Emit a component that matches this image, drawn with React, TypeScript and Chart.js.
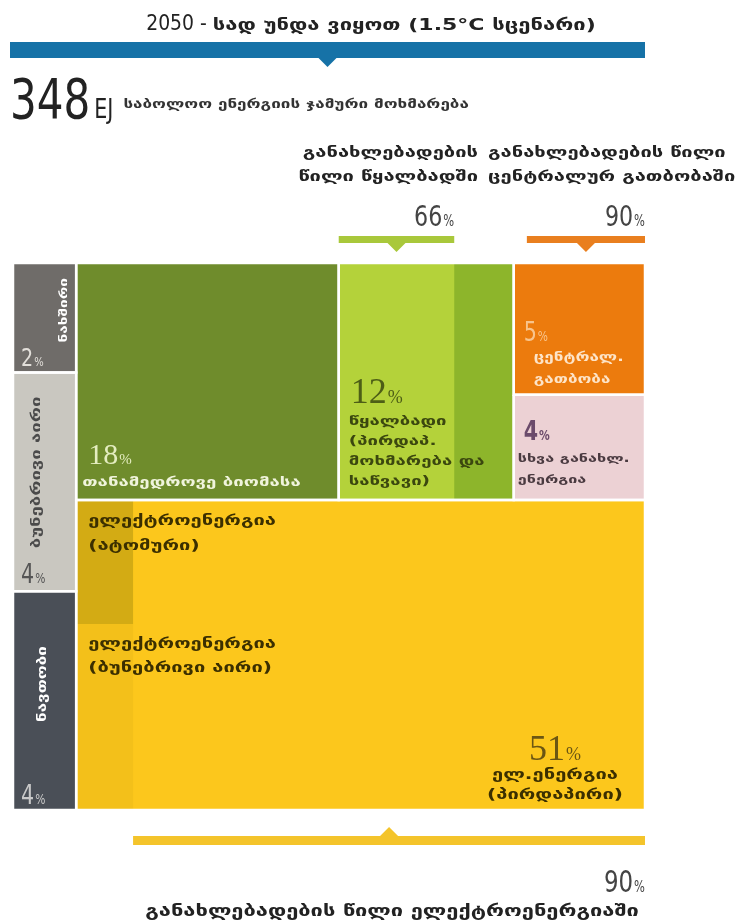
import { useEffect, useRef } from 'react';
import { Chart, registerables } from 'chart.js';
Chart.register(...registerables);

// ---------- DATA ----------
const totalEnergyEJ = 348;
const fossilNames = ['ნახშირი', 'ბუნებრივი აირი', 'ნავთობი'];
const fossilShares = [2, 4, 4];
const renewNames = ['თანამედროვე ბიომასა', 'წყალბადი', 'ცენტრალ. გათბობა', 'სხვა განახლ. ენერგია', 'ელ.ენერგია'];
const renewShares = [18, 12, 5, 4, 51];
const renewableShareNames = ['წყალბადში', 'ცენტრალურ გათბობაში', 'ელექტროენერგიაში'];
const renewableShareValues = [66, 90, 90];
const nonRenewElecNames = ['ატომური', 'ბუნებრივი აირი'];
const nonRenewElecSplit = [40, 60];

// ---------- STYLE ----------
const GEO = '"DejaVu Sans", "Noto Sans", sans-serif';
const NARROW = '"DejaVu Sans Condensed", "DejaVu Sans", sans-serif';
const SERIF = '"Liberation Serif", "DejaVu Serif", serif';
const GS = 1.42; // horizontal stretch for Georgian labels
const NS = 0.85; // horizontal squeeze for condensed numbers

type Cell = { x0: number; x1: number; y0: number; y1: number };
const sum = (a: number[]) => a.reduce((s, v) => s + v, 0);

function computeLayout() {
  const fossilTotal = sum(fossilShares);
  const renewTotal = sum(renewShares);
  const grand = fossilTotal + renewTotal;
  const fossilW = (fossilTotal / grand) * 100;
  let acc = 0;
  const fossil: Cell[] = fossilShares.map((v) => {
    const h = (v / fossilTotal) * 100;
    const c = { x0: 0, x1: fossilW, y0: acc, y1: acc + h };
    acc += h;
    return c;
  });
  const [bio, h2, dh, oth] = renewShares;
  const top = bio + h2 + dh + oth;
  const topH = (top / renewTotal) * 100;
  const mainW = 100 - fossilW;
  const bx1 = fossilW + (bio / top) * mainW;
  const hx1 = bx1 + (h2 / top) * mainW;
  const dhY = (dh / (dh + oth)) * topH;
  const biomass = { x0: fossilW, x1: bx1, y0: 0, y1: topH };
  const hydrogen = { x0: bx1, x1: hx1, y0: 0, y1: topH };
  const h2Renew = { x0: bx1, x1: bx1 + (renewableShareValues[0] / 100) * (hx1 - bx1), y0: 0, y1: topH };
  const heat = { x0: hx1, x1: 100, y0: 0, y1: dhY };
  const other = { x0: hx1, x1: 100, y0: dhY, y1: topH };
  const elec = { x0: fossilW, x1: 100, y0: topH, y1: 100 };
  const nonRenW = ((100 - renewableShareValues[2]) / 100) * mainW;
  const nucH = (nonRenewElecSplit[0] / sum(nonRenewElecSplit)) * (100 - topH);
  const nuclear = { x0: fossilW, x1: fossilW + nonRenW, y0: topH, y1: topH + nucH };
  const gasElec = { x0: fossilW, x1: fossilW + nonRenW, y0: topH + nucH, y1: 100 };
  const heatRenew = { x0: 100 - (renewableShareValues[1] / 100) * (100 - hx1), x1: 100, y0: 0, y1: 0 };
  const elecRenew = { x0: fossilW + nonRenW, x1: 100, y0: 0, y1: 0 };
  return { fossil, biomass, hydrogen, h2Renew, heat, other, elec, nuclear, gasElec, heatRenew, elecRenew };
}

const L = computeLayout();

const rectPts = (c: Cell) => [
  { x: c.x0, y: c.y0 },
  { x: c.x1, y: c.y0 },
  { x: c.x1, y: c.y1 },
  { x: c.x0, y: c.y1 },
  { x: c.x0, y: c.y0 },
];

function txt(ctx: CanvasRenderingContext2D, s: string, x: number, y: number, font: string, color: string, align = 'left', stretch = 1) {
  ctx.save();
  ctx.font = font;
  const w = ctx.measureText(s).width * stretch;
  const sx = align === 'left' ? x : align === 'right' ? x - w : x - w / 2;
  ctx.translate(sx, y);
  ctx.scale(stretch, 1);
  ctx.fillStyle = color;
  ctx.textAlign = 'left';
  ctx.textBaseline = 'alphabetic';
  ctx.fillText(s, 0, 0);
  ctx.restore();
  return w;
}

const gfont = (size: number) => `bold ${size}px ${GEO}`;
function gtxt(ctx: CanvasRenderingContext2D, s: string, x: number, y: number, size: number, color: string, align = 'left') {
  return txt(ctx, s, x, y, gfont(size), color, align, GS);
}

function pctText(ctx: CanvasRenderingContext2D, num: string, x: number, y: number, size: number, fam: string, color: string, align = 'left', weight = '', stretch = 1) {
  const f1 = `${weight} ${size}px ${fam}`;
  const f2 = `${weight} ${Math.round(size * 0.5)}px ${fam}`;
  ctx.font = f1;
  const w1 = ctx.measureText(num).width * stretch;
  ctx.font = f2;
  const w2 = ctx.measureText('%').width * stretch;
  const tot = w1 + 1 + w2;
  const sx = align === 'left' ? x : align === 'right' ? x - tot : x - tot / 2;
  txt(ctx, num, sx, y, f1, color, 'left', stretch);
  txt(ctx, '%', sx + w1 + 1, y, f2, color, 'left', stretch);
}

function vtxt(ctx: CanvasRenderingContext2D, s: string, x: number, y: number, size: number, color: string) {
  ctx.save();
  ctx.translate(x, y);
  ctx.rotate(-Math.PI / 2);
  ctx.scale(GS, 1);
  ctx.font = gfont(size);
  ctx.fillStyle = color;
  ctx.textAlign = 'left';
  ctx.textBaseline = 'middle';
  ctx.fillText(s, 0, 0);
  ctx.restore();
}

function bracket(ctx: CanvasRenderingContext2D, x0: number, x1: number, yTop: number, h: number, color: string, dir: 'down' | 'up') {
  ctx.fillStyle = color;
  ctx.fillRect(x0, yTop, x1 - x0, h);
  const cx = (x0 + x1) / 2;
  ctx.beginPath();
  if (dir === 'down') {
    ctx.moveTo(cx - 9, yTop + h);
    ctx.lineTo(cx + 9, yTop + h);
    ctx.lineTo(cx, yTop + h + 9);
  } else {
    ctx.moveTo(cx - 9, yTop);
    ctx.lineTo(cx + 9, yTop);
    ctx.lineTo(cx, yTop - 9);
  }
  ctx.closePath();
  ctx.fill();
}

const infoPlugin = {
  id: 'infoText',
  afterDraw(chart: any) {
    const ctx: CanvasRenderingContext2D = chart.ctx;
    const a = chart.chartArea;
    const xs = chart.scales.x;
    const ys = chart.scales.y;
    const X = (v: number) => xs.getPixelForValue(v);
    const Y = (v: number) => ys.getPixelForValue(v);
    const box = (c: Cell) => ({ l: X(c.x0), r: X(c.x1), t: Y(c.y0), b: Y(c.y1) });
    ctx.save();

    // title
    const t1 = '2050 - ';
    const t2 = 'სად უნდა ვიყოთ (1.5°C სცენარი)';
    ctx.font = `22px ${NARROW}`;
    const w1 = ctx.measureText(t1).width * 0.95;
    ctx.font = gfont(15.5);
    const w2 = ctx.measureText(t2).width * GS;
    const tcx = (X(0) + X(100)) / 2 + 42;
    const sx = tcx - (w1 + w2) / 2;
    txt(ctx, t1, sx, 30, `22px ${NARROW}`, '#222', 'left', 0.95);
    gtxt(ctx, t2, sx + w1, 30, 15.5, '#222');

    // total bar
    bracket(ctx, X(0) - 3, X(100), 42, 16, '#1672a7', 'down');

    // 348 EJ
    const wn = txt(ctx, String(totalEnergyEJ), 10, 118, `55px ${NARROW}`, '#222', 'left', NS);
    const we = txt(ctx, 'EJ', 14 + wn, 118, `27px ${NARROW}`, '#222', 'left', NS);
    gtxt(ctx, 'საბოლოო ენერგიის ჯამური მოხმარება', 24 + wn + we, 108, 12, '#333');

    // headers
    const hb = box(L.h2Renew);
    gtxt(ctx, 'განახლებადების', 478, 157, 14.2, '#222', 'right');
    gtxt(ctx, 'წილი ' + renewableShareNames[0], 478, 181, 14.2, '#222', 'right');
    gtxt(ctx, 'განახლებადების წილი', 488, 157, 14.2, '#222');
    gtxt(ctx, renewableShareNames[1], 488, 181, 14.2, '#222');

    // top brackets
    bracket(ctx, hb.l, hb.r, a.top - 27, 7, '#a9c83b', 'down');
    pctText(ctx, String(renewableShareValues[0]), hb.r, a.top - 37, 29, NARROW, '#444', 'right', '', NS);
    const hr = { l: X(L.heatRenew.x0), r: X(L.heatRenew.x1) };
    bracket(ctx, hr.l, hr.r, a.top - 27, 7, '#e97f1f', 'down');
    pctText(ctx, String(renewableShareValues[1]), hr.r, a.top - 37, 29, NARROW, '#444', 'right', '', NS);

    // bottom bracket
    const er = { l: X(L.elecRenew.x0), r: X(L.elecRenew.x1) };
    bracket(ctx, er.l, er.r, a.bottom + 26, 9, '#f4c42b', 'up');
    pctText(ctx, String(renewableShareValues[2]), er.r, a.bottom + 82, 30, NARROW, '#444', 'right', '', NS);
    gtxt(ctx, 'განახლებადების წილი ' + renewableShareNames[2], (er.l + er.r) / 2 + 3, a.bottom + 106, 15.4, '#222', 'center');

    // fossil column
    const [coal, gas, oil] = L.fossil.map(box);
    pctText(ctx, String(fossilShares[0]), coal.l + 8, coal.b - 6, 25, NARROW, '#e2dfda', 'left', '', NS);
    vtxt(ctx, fossilNames[0], coal.r - 12, coal.b - 30, 10.8, '#ffffff');
    vtxt(ctx, fossilNames[1], gas.l + 24, gas.b - 43, 13, '#4a4a4a');
    pctText(ctx, String(fossilShares[1]), gas.l + 8, gas.b - 8, 27, NARROW, '#555', 'left', '', NS);
    vtxt(ctx, fossilNames[2], oil.l + 30, oil.b - 88, 12, '#ffffff');
    pctText(ctx, String(fossilShares[2]), oil.l + 8, oil.b - 6, 27, NARROW, '#c9c9c9', 'left', '', NS);

    // biomass
    const bb = box(L.biomass);
    pctText(ctx, String(renewShares[0]), bb.l + 12, bb.b - 36, 30, SERIF, '#e4edc0');
    gtxt(ctx, renewNames[0], bb.l + 6, bb.b - 14, 13.1, '#f0f4dc');

    // hydrogen
    const h = box(L.hydrogen);
    pctText(ctx, String(renewShares[1]), h.l + 12, h.b - 97, 36, SERIF, '#4d5e16');
    const hl = [renewNames[1], '(პირდაპ.', 'მოხმარება და', 'საწვავი)'];
    hl.forEach((s, i) => gtxt(ctx, s, h.l + 10, h.b - 75 + i * 20, 13.1, '#3b470f'));

    // district heat
    const d = box(L.heat);
    pctText(ctx, String(renewShares[2]), d.l + 10, d.b - 54, 27, NARROW, '#f8c48c', 'left', '', NS);
    gtxt(ctx, 'ცენტრალ.', d.l + 20, d.b - 34, 12, '#fde4c8');
    gtxt(ctx, 'გათბობა', d.l + 20, d.b - 12, 12, '#fde4c8');

    // other renewables
    const o = box(L.other);
    pctText(ctx, String(renewShares[3]), o.l + 10, o.t + 45, 27, NARROW, '#6b4b6b', 'left', 'bold', NS);
    gtxt(ctx, 'სხვა განახლ.', o.l + 4, o.t + 67, 11.4, '#4a3a40');
    gtxt(ctx, 'ენერგია', o.l + 4, o.t + 88, 11.4, '#4a3a40');

    // electricity
    const n = box(L.nuclear);
    gtxt(ctx, 'ელექტროენერგია', n.l + 12, n.t + 25, 14.2, '#3b2f00');
    gtxt(ctx, '(' + nonRenewElecNames[0] + ')', n.l + 12, n.t + 50, 14.2, '#3b2f00');
    const g = box(L.gasElec);
    gtxt(ctx, 'ელექტროენერგია', g.l + 12, g.t + 24, 14.2, '#3b2f00');
    gtxt(ctx, '(' + nonRenewElecNames[1] + ')', g.l + 12, g.t + 48, 14.2, '#3b2f00');
    const e = box(L.elec);
    pctText(ctx, String(renewShares[4]), e.r - 90, e.b - 50, 36, SERIF, '#6b5613', 'center');
    gtxt(ctx, renewNames[4], e.r - 90, e.b - 31, 14.2, '#3b2f00', 'center');
    gtxt(ctx, '(პირდაპირი)', e.r - 90, e.b - 11, 14.2, '#3b2f00', 'center');

    ctx.restore();
  },
};

const transparent = 'rgba(0,0,0,0)';

function fillDs(c: Cell, color: string) {
  return {
    data: rectPts(c),
    showLine: true,
    fill: 'shape',
    backgroundColor: color,
    borderColor: transparent,
    borderWidth: 0,
    pointRadius: 0,
    tension: 0,
    clip: false,
  };
}
function outlineDs(c: Cell) {
  return {
    data: rectPts(c),
    showLine: true,
    fill: false,
    backgroundColor: transparent,
    borderColor: '#ffffff',
    borderWidth: 2.5,
    pointRadius: 0,
    tension: 0,
    clip: false,
  };
}

export default function App() {
  const ref = useRef<HTMLCanvasElement>(null);
  useEffect(() => {
    const mainCells = [...L.fossil, L.biomass, L.hydrogen, L.heat, L.other, L.elec];
    const fossilColors = ['#6f6c69', '#c9c7c0', '#4a4f57'];
    const datasets: any[] = [
      ...mainCells.map(outlineDs),
      fillDs(L.h2Renew, '#b4d23a'),
      fillDs(L.nuclear, '#d3ab14'),
      fillDs(L.gasElec, '#f3c01a'),
      ...L.fossil.map((c, i) => fillDs(c, fossilColors[i])),
      fillDs(L.biomass, '#6f8c2c'),
      fillDs(L.hydrogen, '#8db52b'),
      fillDs(L.heat, '#ec7b0d'),
      fillDs(L.other, '#ecd1d4'),
      fillDs(L.elec, '#fcc71c'),
    ];
    const chart = new Chart(ref.current!, {
      type: 'scatter',
      data: { datasets },
      options: {
        responsive: false,
        animation: false,
        events: [],
        layout: { padding: { left: 13, right: 104, top: 263, bottom: 114 } },
        scales: {
          x: { type: 'linear', min: 0, max: 100, display: false },
          y: { type: 'linear', min: 0, max: 100, reverse: true, display: false },
        },
        plugins: { legend: { display: false }, tooltip: { enabled: false } },
      },
      plugins: [infoPlugin],
    } as any);
    return () => chart.destroy();
  }, []);
  return (
    <div style={{ position: 'absolute', left: 0, top: 0, width: 749, height: 924, background: '#ffffff' }}>
      <canvas ref={ref} width={749} height={924} />
    </div>
  );
}
